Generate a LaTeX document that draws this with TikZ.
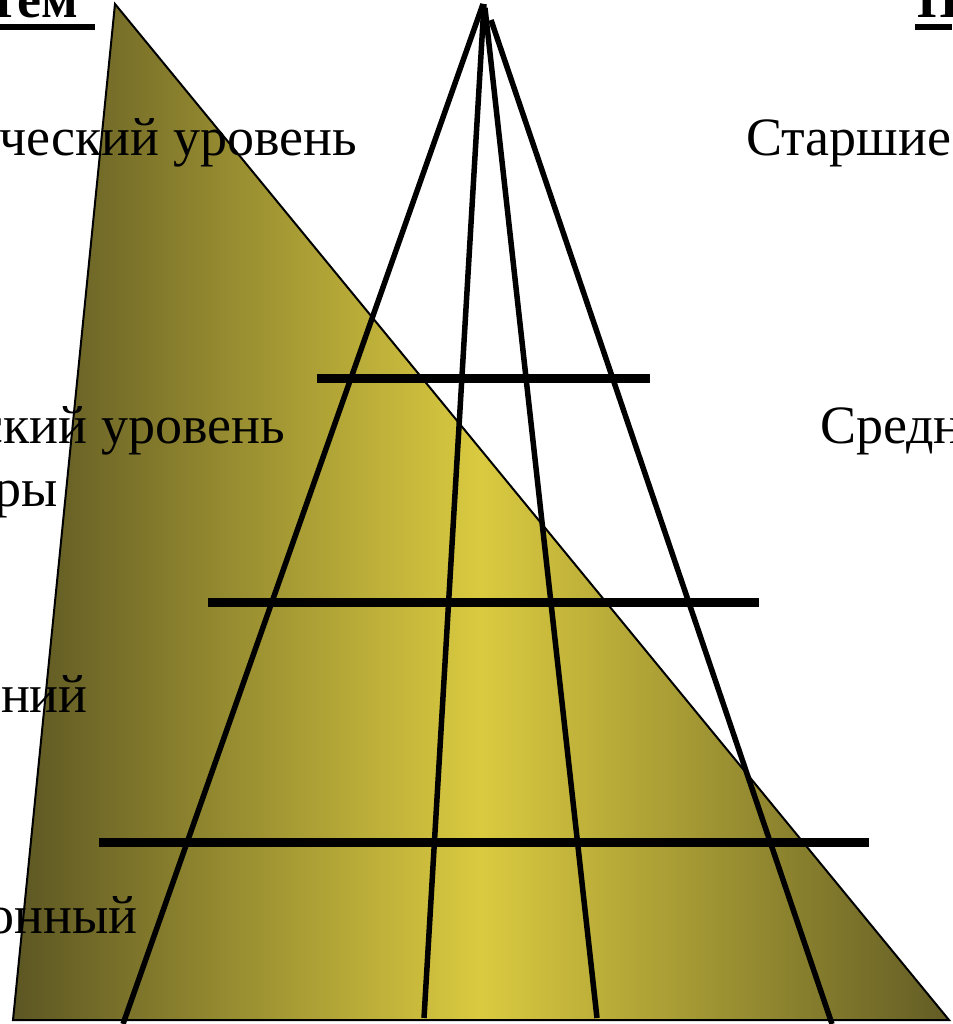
\documentclass[tikz,border=0pt]{standalone}
\usepackage{fontspec}
\setmainfont{Liberation Serif}
\begin{document}
\begin{tikzpicture}[x=1pt,y=-1pt,
  lbl/.style={inner sep=0pt, font=\fontsize{54}{62}\selectfont},
  ttl/.style={inner sep=0pt, font=\fontsize{54}{62}\selectfont\bfseries},
  ray/.style={line width=5.5pt, line cap=butt},
  bar/.style={line width=9pt},
  tri/.style={draw=black, line width=2pt, line join=miter}]
\useasboundingbox (0,0) rectangle (952,1024);
\clip (0,0) rectangle (952,1024);
% triangle
\coordinate (t1) at (115,4);
\coordinate (t2) at (13,1020);
\coordinate (t3) at (949,1020);
\shade[left color={rgb,255:red,92;green,86;blue,35}, right color={rgb,255:red,98;green,92;blue,37}, middle color={rgb,255:red,218;green,202;blue,64}]
  (t1) -- (t2) -- (t3) -- cycle;
\draw[tri] (t1) -- (t2) -- (t3) -- cycle;
% rays
\coordinate (a0) at (483,4);
\coordinate (a1) at (123,1024);
\coordinate (b0) at (484,4);
\coordinate (b1) at (424,1018);
\coordinate (c0) at (485,8);
\coordinate (c1) at (597,1018);
\coordinate (d0) at (491,20);
\coordinate (d1) at (832,1024);
\draw[ray] (a0) -- (a1);
\draw[ray] (b0) -- (b1);
\draw[ray] (c0) -- (c1);
\draw[ray] (d0) -- (d1);
% bars
\coordinate (h1a) at (317,378); \coordinate (h1b) at (650,378);
\coordinate (h2a) at (208,602); \coordinate (h2b) at (759,602);
\coordinate (h3a) at (99,842);  \coordinate (h3b) at (869,842);
\draw[bar] (h1a) -- (h1b);
\draw[bar] (h2a) -- (h2b);
\draw[bar] (h3a) -- (h3b);
% texts
\node[ttl, anchor=base east] (tl) at (78,18) {тем};
\fill (0,24) rectangle (95,30);
\node[ttl, anchor=base west] (tr) at (917,18) {П};
\fill (915,24) rectangle (952,30);
\node[lbl, anchor=base east] (l1) at (357,156) {ческий уровень};
\node[lbl, anchor=base west] (r1) at (746,156) {Старшие};
\node[lbl, anchor=base east] (l2) at (285,443) {ский уровень};
\node[lbl, anchor=base east] (l3) at (58,506) {ры};
\node[lbl, anchor=base west] (r2) at (820,443) {Средн};
\node[lbl, anchor=base east] (l4) at (88,712) {ний};
\node[lbl, anchor=base east] (l5) at (138,933) {онный};
\end{tikzpicture}
\end{document}
